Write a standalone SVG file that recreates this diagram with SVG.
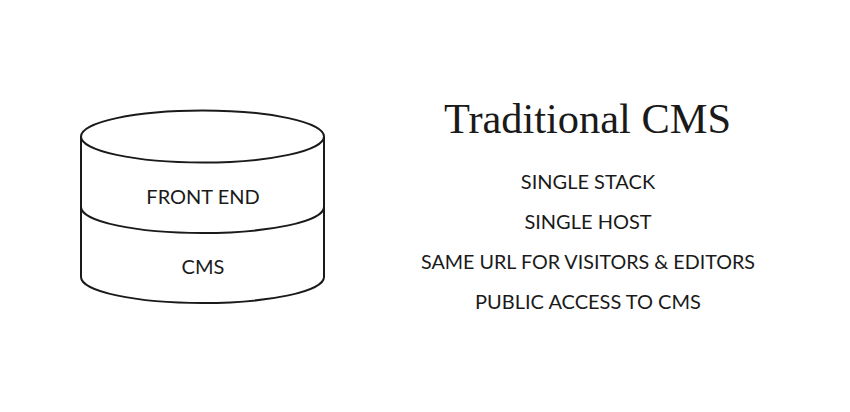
<svg xmlns="http://www.w3.org/2000/svg" width="850" height="412" viewBox="0 0 850 412">
<style>
.shape{fill:none;stroke:#1a1a1a;stroke-width:2}
.lbl{font-family:Lato,"Noto Sans",sans-serif;font-size:20px;fill:#1a1a1a;text-anchor:middle}
.title{font-family:"Liberation Serif","DejaVu Serif",serif;font-size:42px;fill:#1a1a1a;text-anchor:middle}
</style>
<rect width="850" height="412" fill="#ffffff"/>
<g id="cylinder">
<ellipse class="shape" cx="202.5" cy="136.5" rx="121.5" ry="26"/>
<path class="shape" d="M81 136.5 V277 M324 136.5 V277"/>
<path class="shape" d="M81 207 A121.5 26 0 0 0 324 207"/>
<path class="shape" d="M81 277 A121.5 26 0 0 0 324 277"/>
</g>
<g id="front-end"><text class="lbl" x="203" y="204">FRONT END</text></g>
<g id="cms"><text class="lbl" x="203" y="274">CMS</text></g>
<g id="title"><text class="title" x="587.5" y="133" textLength="287" lengthAdjust="spacingAndGlyphs">Traditional CMS</text></g>
<g id="features">
<text class="lbl" x="588" y="189">SINGLE STACK</text>
<text class="lbl" x="588" y="229">SINGLE HOST</text>
<text class="lbl" x="588" y="269" textLength="334" lengthAdjust="spacingAndGlyphs">SAME URL FOR VISITORS &amp; EDITORS</text>
<text class="lbl" x="588" y="309">PUBLIC ACCESS TO CMS</text>
</g>
</svg>
